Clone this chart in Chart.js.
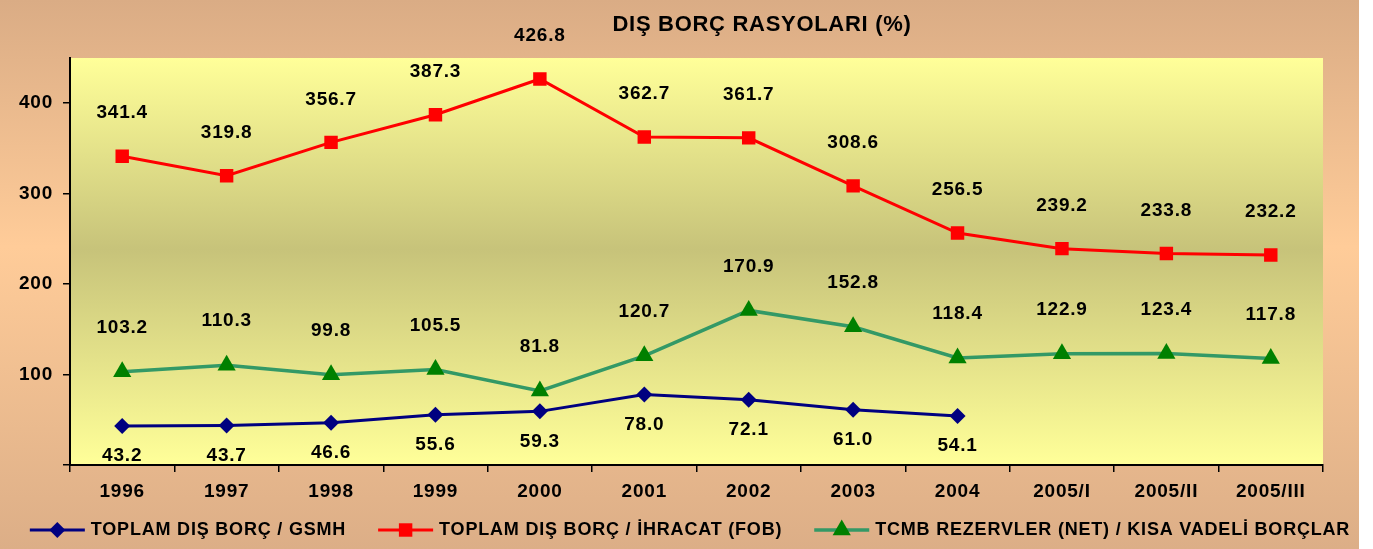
<!DOCTYPE html>
<html>
<head>
<meta charset="utf-8">
<script src="https://cdn.jsdelivr.net/npm/chart.js@4.4.0/dist/chart.umd.min.js"></script>
<style>
  html, body { margin: 0; padding: 0; background: #ffffff; }
  #wrap { width: 1373px; height: 549px; }
  canvas { display: block; }
</style>
</head>
<body>
<div id="wrap"><canvas id="c" width="1359" height="549"></canvas></div>
<script>
const chartTitle = 'DIŞ BORÇ RASYOLARI (%)';
const categories = ['1996', '1997', '1998', '1999', '2000', '2001', '2002', '2003', '2004', '2005/I', '2005/II', '2005/III'];
const seriesNames = ['TOPLAM DIŞ BORÇ / GSMH', 'TOPLAM DIŞ BORÇ / İHRACAT (FOB)', 'TCMB REZERVLER (NET) / KISA VADELİ BORÇLAR'];
const debtToGnp = [43.2, 43.7, 46.6, 55.6, 59.3, 78.0, 72.1, 61.0, 54.1, null, null, null];
const debtToExports = [341.4, 319.8, 356.7, 387.3, 426.8, 362.7, 361.7, 308.6, 256.5, 239.2, 233.8, 232.2];
const reservesToShortDebt = [103.2, 110.3, 99.8, 105.5, 81.8, 120.7, 170.9, 152.8, 118.4, 122.9, 123.4, 117.8];
const yTickValues = [0, 100, 200, 300, 400];

const FONT = "'Liberation Sans', Arial, Helvetica, sans-serif";

function drawMarker(ctx, style, r, x, y, fill) {
  ctx.save();
  ctx.fillStyle = fill;
  ctx.beginPath();
  if (style === 'rectRot') {
    ctx.moveTo(x - r, y); ctx.lineTo(x, y - r); ctx.lineTo(x + r, y); ctx.lineTo(x, y + r);
  } else if (style === 'rect') {
    const s = Math.SQRT1_2 * r;
    ctx.rect(x - s, y - s, 2 * s, 2 * s);
  } else if (style === 'triangle') {
    for (let i = 0; i < 3; i++) {
      const a = i * 2 * Math.PI / 3;
      const px = x + Math.sin(a) * r, py = y - Math.cos(a) * r;
      if (i === 0) ctx.moveTo(px, py); else ctx.lineTo(px, py);
    }
  }
  ctx.closePath();
  ctx.fill();
  ctx.restore();
}

const decoPlugin = {
  id: 'deco',
  beforeDraw(chart) {
    const ctx = chart.ctx, W = chart.width, H = chart.height, a = chart.chartArea;
    ctx.save();
    const g = ctx.createLinearGradient(0, 0, 0, H);
    g.addColorStop(0, '#DAAC85');
    g.addColorStop(0.45, '#FFCC99');
    g.addColorStop(1, '#DCAE87');
    ctx.fillStyle = g;
    ctx.fillRect(0, 0, W, H);
    const g2 = ctx.createLinearGradient(0, a.top, 0, a.bottom);
    g2.addColorStop(0, '#FFFF99');
    g2.addColorStop(0.47, '#C7C37A');
    g2.addColorStop(1, '#FFFF99');
    ctx.fillStyle = g2;
    ctx.fillRect(a.left, a.top, a.right - a.left, a.bottom - a.top);
    ctx.restore();
    ctx.letterSpacing = '0.8px';
  },
  afterDatasetsDraw(chart) {
    const ctx = chart.ctx;
    const offsets = [30, -43, -44];
    ctx.save();
    ctx.letterSpacing = '0.8px';
    ctx.font = 'bold 19px ' + FONT;
    ctx.fillStyle = '#000';
    ctx.textAlign = 'center';
    ctx.textBaseline = 'middle';
    chart.data.datasets.forEach((ds, i) => {
      const meta = chart.getDatasetMeta(i);
      meta.data.forEach((pt, j) => {
        const v = ds.data[j];
        if (v === null || v === undefined) return;
        ctx.fillText(v.toFixed(1), pt.x, pt.y + offsets[i]);
      });
    });
    ctx.restore();
  },
  afterDraw(chart) {
    const ctx = chart.ctx;
    ctx.save();
    ctx.fillStyle = '#000';
    ctx.letterSpacing = '0.7px';
    ctx.font = 'bold 22px ' + FONT;
    ctx.textAlign = 'center';
    ctx.textBaseline = 'middle';
    ctx.fillText(chartTitle, 762, 25);

    // legend
    ctx.font = 'bold 18px ' + FONT;
    ctx.letterSpacing = '0.8px';
    ctx.textAlign = 'left';
    const lineLen = 55, gapText = 6, gapItem = 32, ly = 530;
    const widths = chart.data.datasets.map(ds => ctx.measureText(ds.label).width);
    const total = widths.reduce((s, w) => s + w + lineLen + gapText, 0) + gapItem * (widths.length - 1);
    let x = 690 - total / 2;
    chart.data.datasets.forEach((ds, i) => {
      ctx.strokeStyle = ds.borderColor;
      ctx.lineWidth = ds.borderWidth;
      ctx.beginPath();
      ctx.moveTo(x, ly);
      ctx.lineTo(x + lineLen, ly);
      ctx.stroke();
      drawMarker(ctx, ds.pointStyle, ds.pointRadius, x + lineLen / 2, ly, ds.pointBackgroundColor);
      ctx.fillStyle = '#000';
      ctx.fillText(ds.label, x + lineLen + gapText, ly);
      x += lineLen + gapText + widths[i] + gapItem;
    });
    ctx.restore();
  }
};

new Chart(document.getElementById('c'), {
  type: 'line',
  data: {
    labels: categories,
    datasets: [
      {
        label: seriesNames[0], data: debtToGnp,
        borderColor: '#000080', backgroundColor: '#000080', borderWidth: 3,
        pointStyle: 'rectRot', pointRadius: 8, pointHoverRadius: 8,
        pointBackgroundColor: '#000080', pointBorderColor: '#000080', pointBorderWidth: 0,
        tension: 0, spanGaps: false
      },
      {
        label: seriesNames[1], data: debtToExports,
        borderColor: '#FF0000', backgroundColor: '#FF0000', borderWidth: 3,
        pointStyle: 'rect', pointRadius: 9.5, pointHoverRadius: 9.5,
        pointBackgroundColor: '#FF0000', pointBorderColor: '#FF0000', pointBorderWidth: 0,
        tension: 0
      },
      {
        label: seriesNames[2], data: reservesToShortDebt,
        borderColor: '#339966', backgroundColor: '#008000', borderWidth: 3.5,
        pointStyle: 'triangle', pointRadius: 10.5, pointHoverRadius: 10.5,
        pointBackgroundColor: '#008000', pointBorderColor: '#008000', pointBorderWidth: 0,
        tension: 0
      }
    ]
  },
  options: {
    responsive: false,
    animation: false,
    devicePixelRatio: 1,
    layout: { padding: { left: 0, right: 36, top: 58, bottom: 44 } },
    plugins: {
      legend: { display: false },
      title: { display: false },
      tooltip: { enabled: false }
    },
    scales: {
      x: {
        offset: true,
        grid: { display: true, drawOnChartArea: false, drawTicks: true, tickLength: 7, color: '#000', lineWidth: 1.5, offset: true },
        border: { display: true, color: '#000', width: 2 },
        ticks: { color: '#000', font: { family: FONT, size: 19, weight: 'bold' }, padding: 8, maxRotation: 0, autoSkip: false },
        afterFit: s => { s.height = 40; }
      },
      y: {
        min: 0, max: 450,
        afterBuildTicks: s => { s.ticks = yTickValues.map(v => ({ value: v })); },
        grid: { display: true, drawOnChartArea: false, drawTicks: true, tickLength: 7, color: '#000', lineWidth: 1.5 },
        border: { display: true, color: '#000', width: 2 },
        ticks: {
          color: '#000', font: { family: FONT, size: 19, weight: 'bold' }, padding: 10,
          callback: v => (v === 0 ? '' : String(v))
        },
        afterFit: s => { s.width = 70; }
      }
    }
  },
  plugins: [decoPlugin]
});
</script>
</body>
</html>
